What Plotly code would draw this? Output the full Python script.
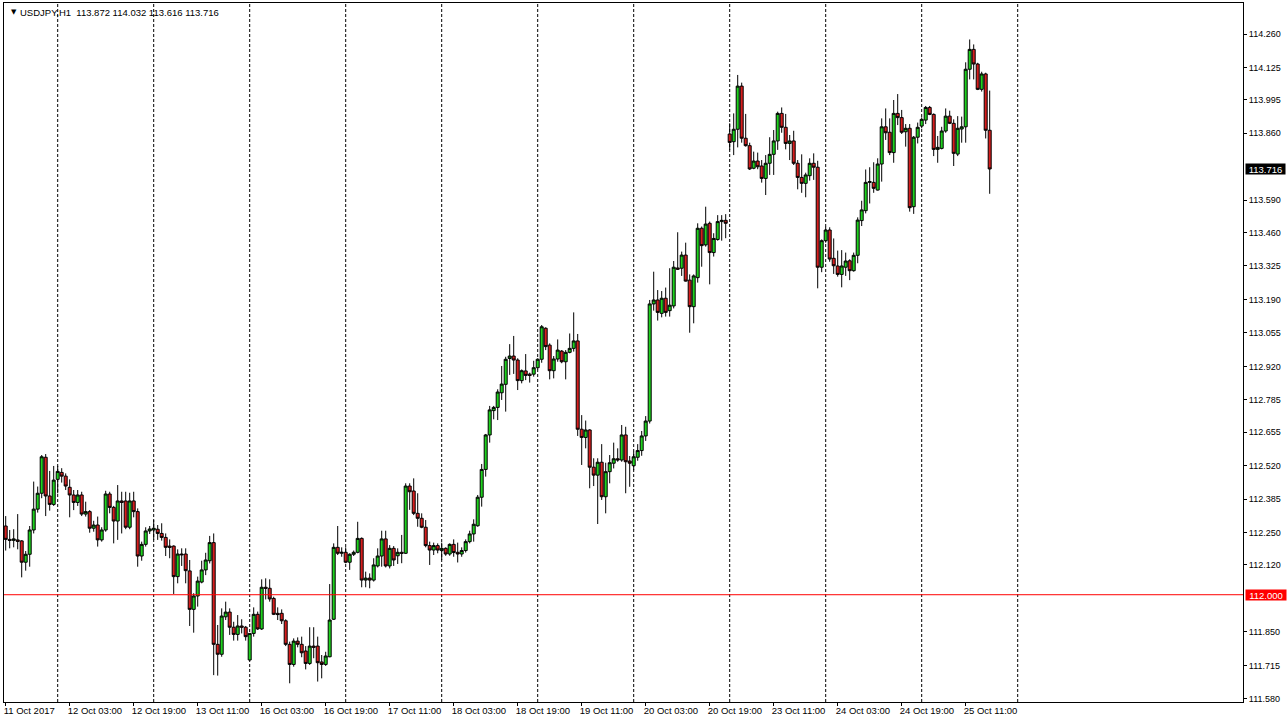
import pandas as pd
import plotly.graph_objects as go

symbol_title = "USDJPY,H1"
header_ohlc = ["113.872", "114.032", "113.616", "113.716"]

opens = [112.277,112.223,112.219,112.221,112.217,112.131,112.163,112.261,112.345,112.409,
112.554,112.398,112.364,112.465,112.493,112.478,112.433,112.402,112.372,112.402,
112.325,112.335,112.268,112.281,112.221,112.261,112.406,112.352,112.297,112.378,
112.378,112.272,112.378,112.335,112.156,112.203,112.257,112.261,112.264,112.247,
112.231,112.196,112.196,112.073,112.164,112.164,112.096,111.941,111.995,112.051,
112.100,112.137,112.210,111.800,111.760,111.911,111.930,111.869,111.840,111.874,
111.869,111.737,111.844,111.921,111.862,112.030,112.026,111.985,111.925,111.925,
111.895,111.800,111.719,111.813,111.800,111.773,111.723,111.793,111.793,111.729,
111.719,111.750,111.901,112.191,112.167,112.171,112.131,112.163,112.171,112.227,
112.059,112.067,112.059,112.116,112.156,112.225,112.116,112.187,112.157,112.171,
112.167,112.438,112.418,112.328,112.308,112.272,112.198,112.180,112.198,112.178,
112.187,112.164,112.203,112.171,112.164,112.178,112.214,112.245,112.278,112.393,
112.505,112.644,112.742,112.755,112.814,112.848,112.952,112.962,112.946,112.863,
112.902,112.889,112.889,112.915,112.949,113.074,113.006,112.903,112.950,112.982,
112.939,112.977,112.993,113.023,112.667,112.634,112.664,112.514,112.482,112.534,
112.395,112.496,112.530,112.548,112.543,112.644,112.539,112.520,112.554,112.581,
112.640,112.700,113.172,113.188,113.134,113.195,113.145,113.164,113.317,113.316,
113.369,113.268,113.161,113.278,113.477,113.410,113.497,113.379,113.432,113.504,
113.509,113.857,113.826,113.876,114.050,113.840,113.810,113.719,113.748,113.728,
113.678,113.739,113.775,113.829,113.940,113.884,113.819,113.829,113.739,113.682,
113.658,113.689,113.739,113.723,113.320,113.427,113.470,113.356,113.325,113.291,
113.320,113.346,113.306,113.368,113.508,113.548,113.662,113.662,113.631,113.736,
113.886,113.864,113.782,113.940,113.923,113.866,113.880,113.564,113.844,113.889,
113.913,113.964,113.936,113.795,113.799,113.869,113.929,113.900,113.776,113.877,
113.886,114.118,114.198,114.139,114.037,114.099,113.872]

highs = [112.317,112.261,112.264,112.325,112.220,112.176,112.277,112.456,112.436,112.563,
112.567,112.499,112.519,112.519,112.510,112.489,112.465,112.422,112.422,112.415,
112.375,112.341,112.298,112.315,112.272,112.419,112.415,112.358,112.442,112.415,
112.415,112.411,112.415,112.348,112.214,112.272,112.277,112.301,112.281,112.288,
112.247,112.223,112.199,112.183,112.187,112.187,112.140,112.006,112.073,112.137,
112.169,112.237,112.247,111.878,111.945,111.972,111.945,111.891,111.918,111.901,
111.874,111.844,111.949,111.932,112.062,112.066,112.062,111.992,111.949,111.941,
111.901,111.811,111.824,111.828,111.831,111.793,111.869,111.869,111.831,111.757,
111.770,112.043,112.207,112.277,112.191,112.191,112.167,112.178,112.294,112.231,
112.093,112.086,112.147,112.187,112.258,112.258,112.200,112.196,112.187,112.241,
112.449,112.449,112.469,112.409,112.328,112.301,112.214,112.210,112.207,112.210,
112.191,112.207,112.223,112.210,112.191,112.223,112.258,112.304,112.402,112.527,
112.648,112.761,112.761,112.828,112.922,112.959,113.010,113.043,112.953,112.908,
112.970,112.895,112.943,112.953,113.087,113.078,113.013,112.962,113.029,112.986,
112.986,113.053,113.138,113.051,112.724,112.702,112.667,112.550,112.550,112.607,
112.532,112.563,112.613,112.590,112.684,112.677,112.559,112.576,112.607,112.660,
112.720,113.188,113.302,113.228,113.224,113.238,113.316,113.345,113.461,113.383,
113.419,113.291,113.291,113.497,113.484,113.564,113.504,113.457,113.530,113.530,
113.534,113.900,113.940,114.095,114.064,113.938,113.822,113.786,113.782,113.752,
113.772,113.844,113.873,113.947,113.964,113.938,113.853,113.870,113.752,113.775,
113.701,113.759,113.779,113.749,113.432,113.483,113.481,113.436,113.387,113.389,
113.379,113.352,113.379,113.521,113.588,113.714,113.723,113.743,113.759,113.920,
113.960,113.920,113.994,114.018,113.954,113.897,113.897,113.849,113.903,113.924,
113.970,113.970,113.940,113.849,113.886,113.960,113.951,113.916,113.929,113.927,
114.146,114.238,114.218,114.144,114.108,114.104,114.032]

lows = [112.178,112.187,112.191,112.183,112.070,112.097,112.113,112.247,112.331,112.389,
112.317,112.339,112.358,112.409,112.452,112.422,112.312,112.341,112.358,112.317,
112.315,112.250,112.254,112.194,112.214,112.254,112.328,112.207,112.221,112.247,
112.264,112.264,112.312,112.113,112.137,112.194,112.245,112.221,112.221,112.218,
112.156,112.147,112.003,112.046,112.116,112.046,111.874,111.847,111.952,112.046,
112.079,112.126,111.676,111.674,111.750,111.898,111.838,111.815,111.815,111.844,
111.815,111.734,111.831,111.858,111.858,111.981,111.972,111.918,111.898,111.882,
111.793,111.643,111.710,111.788,111.748,111.699,111.717,111.744,111.650,111.663,
111.713,111.748,111.898,112.160,112.153,112.127,112.100,112.156,112.167,112.030,
112.030,112.026,112.053,112.110,112.113,112.110,112.106,112.116,112.124,112.127,
112.164,112.342,112.321,112.274,112.268,112.191,112.120,112.160,112.167,112.140,
112.157,112.157,112.153,112.130,112.153,112.170,112.207,112.214,112.274,112.355,
112.476,112.613,112.707,112.704,112.785,112.738,112.886,112.890,112.825,112.852,
112.865,112.855,112.879,112.908,112.935,112.986,112.868,112.872,112.939,112.933,
112.868,112.973,112.980,112.640,112.523,112.590,112.429,112.438,112.285,112.382,
112.328,112.449,112.509,112.536,112.536,112.409,112.435,112.502,112.540,112.560,
112.620,112.690,113.145,113.105,113.118,113.121,113.121,113.154,113.309,113.285,
113.262,113.056,113.094,113.258,113.322,113.403,113.251,113.363,113.427,113.427,
113.437,113.793,113.772,113.803,113.822,113.806,113.712,113.715,113.715,113.661,
113.611,113.692,113.692,113.793,113.862,113.795,113.752,113.732,113.634,113.620,
113.602,113.669,113.672,113.235,113.300,113.419,113.342,113.293,113.282,113.239,
113.285,113.268,113.302,113.336,113.486,113.537,113.577,113.620,113.629,113.665,
113.833,113.772,113.741,113.893,113.857,113.806,113.544,113.535,113.819,113.880,
113.897,113.933,113.768,113.741,113.795,113.862,113.897,113.728,113.768,113.822,
113.822,114.077,114.077,114.034,114.028,113.839,113.616]

closes = [112.223,112.219,112.225,112.215,112.131,112.163,112.261,112.345,112.409,112.556,
112.398,112.364,112.462,112.497,112.478,112.438,112.402,112.372,112.402,112.325,
112.335,112.268,112.281,112.221,112.261,112.406,112.352,112.297,112.378,112.372,
112.272,112.378,112.335,112.156,112.203,112.257,112.265,112.268,112.247,112.231,
112.191,112.191,112.073,112.164,112.161,112.097,111.941,111.995,112.055,112.100,
112.140,112.210,111.800,111.760,111.914,111.930,111.869,111.840,111.874,111.869,
111.831,111.844,111.921,111.862,112.030,112.026,111.983,111.921,111.920,111.895,
111.800,111.719,111.813,111.800,111.766,111.723,111.793,111.788,111.726,111.719,
111.753,111.898,112.191,112.167,112.171,112.131,112.163,112.171,112.227,112.059,
112.067,112.059,112.120,112.156,112.225,112.116,112.187,112.140,112.171,112.167,
112.438,112.415,112.328,112.308,112.272,112.198,112.180,112.198,112.180,112.187,
112.164,112.203,112.170,112.164,112.178,112.214,112.245,112.284,112.393,112.505,
112.644,112.745,112.755,112.817,112.849,112.949,112.962,112.946,112.863,112.903,
112.884,112.884,112.915,112.949,113.080,113.000,112.903,112.950,112.986,112.939,
112.977,112.993,113.023,112.667,112.634,112.664,112.514,112.482,112.534,112.395,
112.496,112.532,112.548,112.543,112.644,112.536,112.530,112.556,112.581,112.640,
112.700,113.172,113.188,113.138,113.195,113.138,113.167,113.320,113.312,113.369,
113.264,113.161,113.285,113.477,113.407,113.494,113.379,113.436,113.504,113.509,
113.497,113.823,113.876,114.050,113.840,113.810,113.716,113.748,113.725,113.678,
113.739,113.775,113.829,113.940,113.884,113.819,113.829,113.739,113.682,113.658,
113.692,113.739,113.723,113.320,113.427,113.470,113.353,113.326,113.291,113.325,
113.345,113.306,113.368,113.510,113.551,113.662,113.665,113.638,113.736,113.886,
113.862,113.782,113.940,113.923,113.864,113.880,113.560,113.844,113.884,113.916,
113.964,113.936,113.795,113.803,113.869,113.929,113.900,113.779,113.880,113.886,
114.118,114.198,114.139,114.037,114.099,113.872,113.716]

time_labels = ["11 Oct 2017", "12 Oct 03:00", "12 Oct 19:00", "13 Oct 11:00",
               "16 Oct 03:00", "16 Oct 19:00", "17 Oct 11:00", "18 Oct 03:00",
               "18 Oct 19:00", "19 Oct 11:00", "20 Oct 03:00", "20 Oct 19:00",
               "23 Oct 11:00", "24 Oct 03:00", "24 Oct 19:00", "25 Oct 11:00"]

price_ticks = [114.260, 114.125, 113.995, 113.860, 113.590, 113.460, 113.325,
               113.190, 113.055, 112.920, 112.785, 112.655, 112.520, 112.385,
               112.250, 112.120, 111.850, 111.715, 111.580]

hline_level = 112.000
last_price = 113.716

# ---- build hourly bar times (weekends skipped), incl. a few future slots ----
n = len(opens)
times = []
t = pd.Timestamp("2017-10-11 11:00")
while len(times) < n + 7:
    if t.weekday() < 5:
        times.append(t)
    t += pd.Timedelta(hours=1)
idx = list(range(n))
separators = [i for i, tt in enumerate(times) if tt.hour == 0]
label_pos = [i * 16 for i in range(len(time_labels))]

GREEN = "#1ED21E"
RED = "#D71E1E"
FONT = "Liberation Sans, Arial, sans-serif"

fig = go.Figure(go.Candlestick(
    x=idx, open=opens, high=highs, low=lows, close=closes,
    increasing=dict(fillcolor=GREEN, line=dict(color="black", width=1)),
    decreasing=dict(fillcolor=RED, line=dict(color="black", width=1)),
    whiskerwidth=0, showlegend=False, hoverinfo="skip"))

shapes = []
for s in separators:
    shapes.append(dict(type="line", xref="x", yref="paper", x0=s, x1=s, y0=0, y1=1,
                       line=dict(color="black", width=1, dash="3px,2px"), layer="below"))
shapes.append(dict(type="line", xref="paper", yref="y", x0=0, x1=1,
                   y0=hline_level, y1=hline_level,
                   line=dict(color="#FF0000", width=1), layer="above"))

annotations = [
    dict(xref="paper", yref="paper", x=0, y=1, xanchor="left", yanchor="middle",
         xshift=5, yshift=-9, text="▼", showarrow=False,
         font=dict(family="DejaVu Sans", size=7, color="black")),
    dict(xref="paper", yref="paper", x=0, y=1, xanchor="left", yanchor="middle",
         xshift=14, yshift=-9,
         text=symbol_title + "\u00a0\u00a0" + " ".join(header_ohlc), showarrow=False,
         font=dict(family=FONT, size=9.5, color="black")),
    dict(xref="paper", yref="y", x=1, y=last_price, xanchor="left", yanchor="middle",
         xshift=2, text=f"{last_price:.3f}", showarrow=False, bgcolor="black",
         width=39, height=10, borderpad=0, font=dict(family=FONT, size=9.5, color="white")),
    dict(xref="paper", yref="y", x=1, y=hline_level, xanchor="left", yanchor="middle",
         xshift=2, text=f"{hline_level:.3f}", showarrow=False, bgcolor="#FF0000",
         width=40, height=10, borderpad=0, font=dict(family=FONT, size=9.5, color="white")),
]

y_top = 114.385
y_bot = 111.5676
fig.update_layout(
    width=1288, height=725,
    margin=dict(l=4, r=45, t=3, b=23),
    paper_bgcolor="white", plot_bgcolor="white",
    boxgap=0.25, boxgroupgap=0,
    shapes=shapes, annotations=annotations,
    font=dict(family=FONT, size=9.5, color="black"),
    xaxis=dict(range=[-0.425, 309.325], showgrid=False, zeroline=False,
               showline=True, linecolor="black", linewidth=1, mirror=True,
               ticks="outside", ticklen=3, tickcolor="black", tickwidth=1,
               tickvals=label_pos, ticktext=time_labels,
               ticklabelposition="outside right", ticklabelshift=-3,
               tickfont=dict(family=FONT, size=9.5, color="black"),
               rangeslider=dict(visible=False), fixedrange=True),
    yaxis=dict(range=[y_bot, y_top], side="right", showgrid=False, zeroline=False,
               showline=True, linecolor="black", linewidth=1, mirror=True,
               ticks="outside", ticklen=3, tickcolor="black", tickwidth=1,
               tickvals=price_ticks, ticktext=[f"{v:.3f}" for v in price_ticks],
               tickfont=dict(family=FONT, size=9, color="black"), fixedrange=True),
)

fig.write_html("out.html", config={"displayModeBar": False},
               post_script="document.body.style.margin='0';document.body.style.overflow='hidden';")
